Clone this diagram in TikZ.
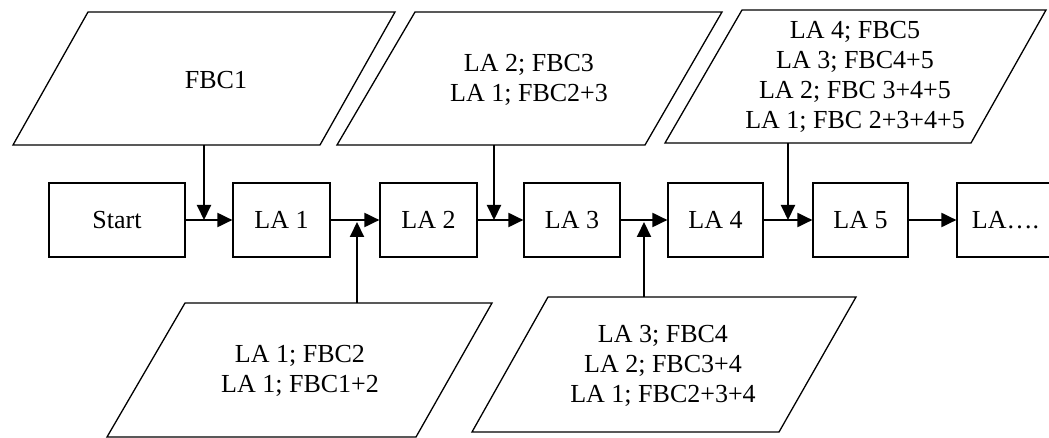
\documentclass[tikz,border=0pt]{standalone}
\usepackage{fontspec}
\setmainfont{Liberation Serif}
\usetikzlibrary{arrows.meta}
\tikzset{
  box/.style={draw, line width=1.2pt, minimum height=74pt, inner sep=0pt, font=\fontsize{26}{30}\selectfont},
  para/.style={draw, line width=1.3pt},
  ptext/.style={align=center, inner sep=0pt, font=\fontsize{26}{30}\selectfont},
  arr/.style={line width=2pt, -{Triangle[length=15pt,width=14pt]}}
}
\begin{document}
\begin{tikzpicture}[x=1pt,y=-1pt]
\useasboundingbox (0,0) rectangle (1049,438);
% parallelograms
\draw[para] (88,12) -- (395,12) -- (320,145) -- (13,145) -- cycle;
\node[ptext] (p1) at (216,80) {FBC1};
\draw[para] (415,12) -- (722,12) -- (645,145) -- (337,145) -- cycle;
\node[ptext] (p2) at (529,80) {LA 2; FBC3\\LA 1; FBC2+3};
\draw[para] (742,10) -- (1046,10) -- (971,143) -- (665,143) -- cycle;
\node[ptext] (p3) at (855,77) {LA 4; FBC5\\LA 3; FBC4+5\\LA 2; FBC 3+4+5\\LA 1; FBC 2+3+4+5};
\draw[para] (185,303) -- (492,303) -- (416,437) -- (107,437) -- cycle;
\node[ptext] (b1) at (300,371) {LA 1; FBC2\\LA 1; FBC1+2};
\draw[para] (548,297) -- (856,297) -- (779,432) -- (472,432) -- cycle;
\node[ptext] (b2) at (663,366) {LA 3; FBC4\\LA 2; FBC3+4\\LA 1; FBC2+3+4};
% boxes
\node[box, minimum width=136pt] (start) at (117,220) {Start};
\node[box, minimum width=97pt] (la1) at (281.5,220) {LA 1};
\node[box, minimum width=97pt] (la2) at (428.5,220) {LA 2};
\node[box, minimum width=96pt] (la3) at (572,220) {LA 3};
\node[box, minimum width=95pt] (la4) at (715.5,220) {LA 4};
\node[box, minimum width=95pt] (la5) at (860.5,220) {LA 5};
\node[box, minimum width=97pt] (lan) at (1005.5,220) {LA….};
% coordinates
\coordinate (p1b) at (204,145);
\coordinate (j1) at (204,220);
\coordinate (b1t) at (357,303);
\coordinate (j2) at (357,222);
\coordinate (p2b) at (494,145);
\coordinate (j3) at (494,220);
\coordinate (b2t) at (644,297);
\coordinate (j4) at (644,222);
\coordinate (p3b) at (788,143);
\coordinate (j5) at (788,220);
% connectors
\draw[arr] (start) -- (la1);
\draw[arr] (la1) -- (la2);
\draw[arr] (la2) -- (la3);
\draw[arr] (la3) -- (la4);
\draw[arr] (la4) -- (la5);
\draw[arr] (la5) -- (lan);
\draw[arr] (p1b) -- (j1);
\draw[arr] (b1t) -- (j2);
\draw[arr] (p2b) -- (j3);
\draw[arr] (b2t) -- (j4);
\draw[arr] (p3b) -- (j5);
\end{tikzpicture}
\end{document}
